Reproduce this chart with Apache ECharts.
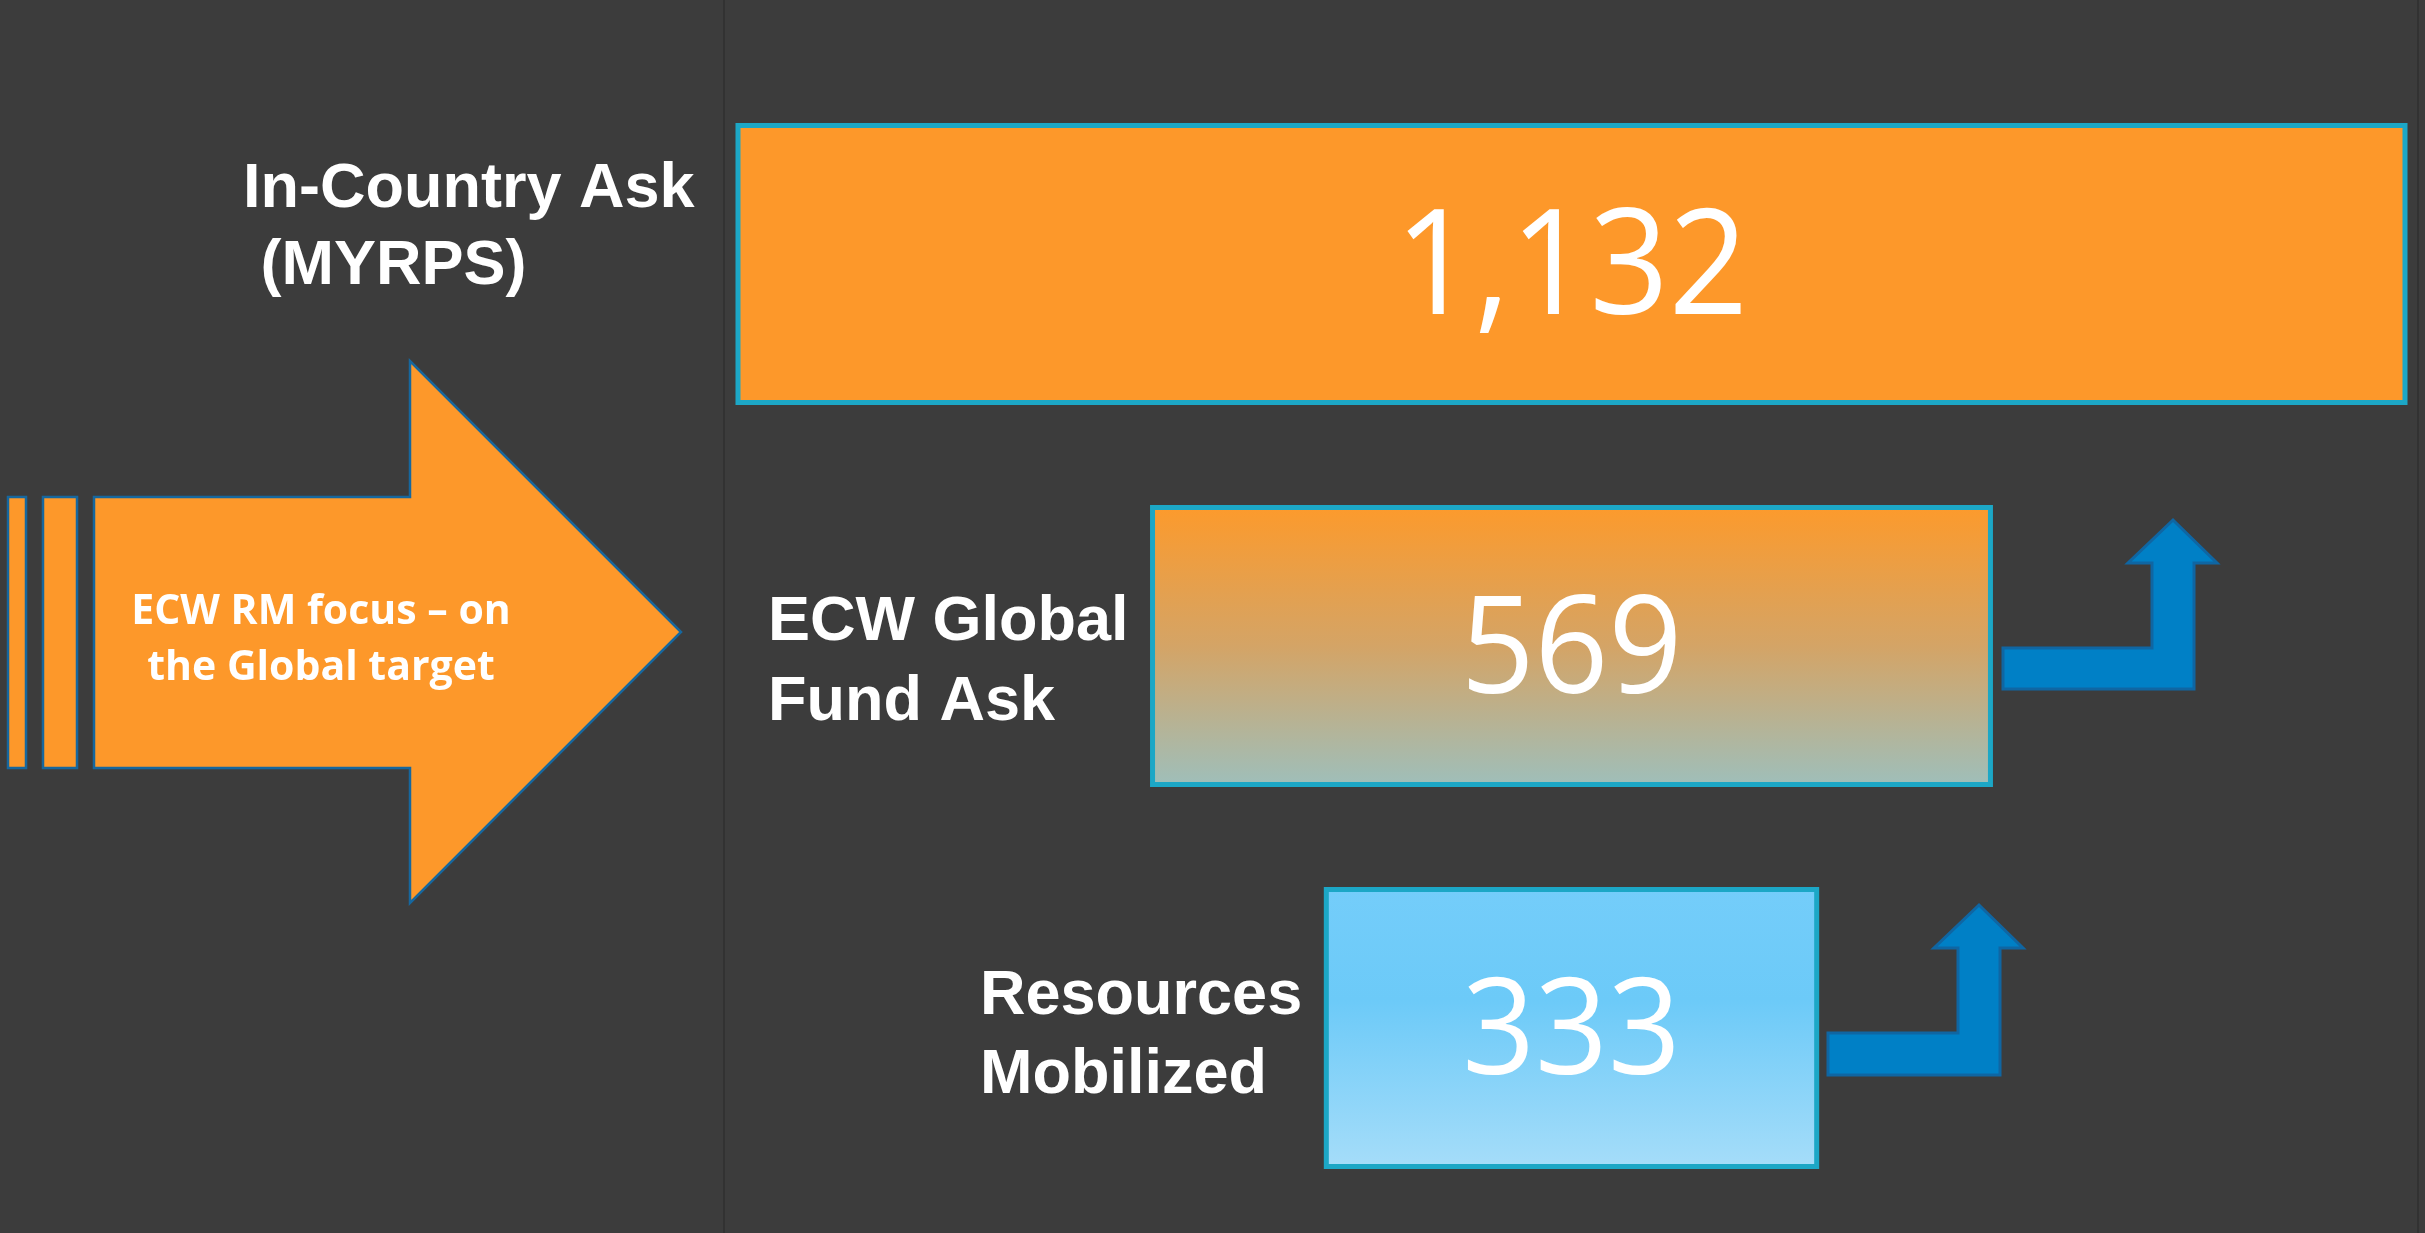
<!DOCTYPE html>
<html><head><meta charset="utf-8">
<script src="https://cdn.jsdelivr.net/npm/echarts@6/dist/echarts.min.js"></script>
<style>html,body{margin:0;padding:0;background:#3c3c3c}#c{width:2425px;height:1233px}</style>
</head><body><div id="c"></div>
<script>
// ---- data ----
const categories = ['In-Country Ask\n (MYRPS)', 'ECW Global\nFund Ask', 'Resources\nMobilized'];
const values = [1132, 569, 333];
const valueLabels = ['1,132', '569', '333'];
const arrowText = 'ECW RM focus \u2013 on\nthe Global target';

// ---- styles ----
const maxV = Math.max.apply(null, values);
const fills = [
  '#fd982a',
  new echarts.graphic.LinearGradient(0, 0, 0, 1, [
    {offset: 0, color: '#fd9a2b'}, {offset: 0.5, color: '#d4a466'}, {offset: 1, color: '#9ebfbb'}]),
  new echarts.graphic.LinearGradient(0, 0, 0, 1, [
    {offset: 0, color: '#74cdfa'}, {offset: 0.4, color: '#6ccaf8'}, {offset: 1, color: '#a6ddf9'}])
];
const valueFont = [146, 136, 134];
const labelPos = [[243, 228.5, 77], [768, 663, 80], [980, 1036, 79]];

const chart = echarts.init(document.getElementById('c'), null, {renderer: 'canvas'});

const graphics = [
  {type: 'line', shape: {x1: 724, y1: 0, x2: 724, y2: 1233}, style: {stroke: '#323232', lineWidth: 2}, silent: true},
  {type: 'line', shape: {x1: 2418, y1: 0, x2: 2418, y2: 1233}, style: {stroke: '#323232', lineWidth: 2}, silent: true},
  // left orange arrow
  {type: 'rect', shape: {x: 8, y: 497, width: 18, height: 271}, style: {fill: '#fd982a', stroke: '#16679e', lineWidth: 2.5}},
  {type: 'rect', shape: {x: 43, y: 497, width: 34, height: 271}, style: {fill: '#fd982a', stroke: '#16679e', lineWidth: 2.5}},
  {type: 'polygon', shape: {points: [[94,497],[410,497],[410,361],[681,632],[410,903],[410,768],[94,768]]},
   style: {fill: '#fd982a', stroke: '#16679e', lineWidth: 2.5}},
  {type: 'text', x: 321, y: 640, style: {text: arrowText, fill: '#ffffff', font: 'bold 41px "Open Sans", sans-serif', align: 'center', verticalAlign: 'middle', lineHeight: 56}},
  // blue bent arrows
  {type: 'polygon', shape: {points: [[2003,648],[2152,648],[2152,563],[2128,563],[2173,520],[2217,563],[2194,563],[2194,689],[2003,689]]},
   style: {fill: '#0080c6', stroke: '#0f66a3', lineWidth: 3}},
  {type: 'polygon', shape: {points: [[1828,1033],[1958,1033],[1958,948],[1934,948],[1979,905],[2023,948],[2000,948],[2000,1075],[1828,1075]]},
   style: {fill: '#0080c6', stroke: '#0f66a3', lineWidth: 3}}
];
categories.forEach(function (c, i) {
  graphics.push({type: 'text', x: labelPos[i][0], y: labelPos[i][1],
    style: {text: c, fill: '#ffffff', font: 'bold 63px "Liberation Sans", Arial, sans-serif', align: 'left', verticalAlign: 'middle', lineHeight: labelPos[i][2]}});
});

chart.setOption({
  backgroundColor: '#3c3c3c',
  animation: false,
  grid: {left: 738, right: 20, top: 73, bottom: 14},
  xAxis: {type: 'value', min: -maxV / 2, max: maxV / 2, show: false},
  yAxis: {type: 'category', data: categories, inverse: true, show: false},
  graphic: graphics,
  series: [{
    type: 'custom',
    encode: {x: 0, y: 1},
    data: values.map(function (v, i) { return [v, i]; }),
    renderItem: function (params, api) {
      const v = api.value(0), idx = api.value(1);
      const l = api.coord([-v / 2, idx]);
      const r = api.coord([v / 2, idx]);
      const h = api.size([0, 1])[1] * 0.725;
      return {type: 'group', children: [
        {type: 'rect', shape: {x: l[0], y: l[1] - h / 2, width: r[0] - l[0], height: h},
         style: {fill: fills[idx], stroke: '#1ca7c6', lineWidth: 5}},
        {type: 'text', x: (l[0] + r[0]) / 2, y: l[1] + 8, scaleX: 0.95,
         style: {text: valueLabels[idx], fill: '#ffffff', font: valueFont[idx] + 'px "Open Sans", sans-serif', align: 'center', verticalAlign: 'middle'}}
      ]};
    }
  }]
});
</script>
</body></html>
